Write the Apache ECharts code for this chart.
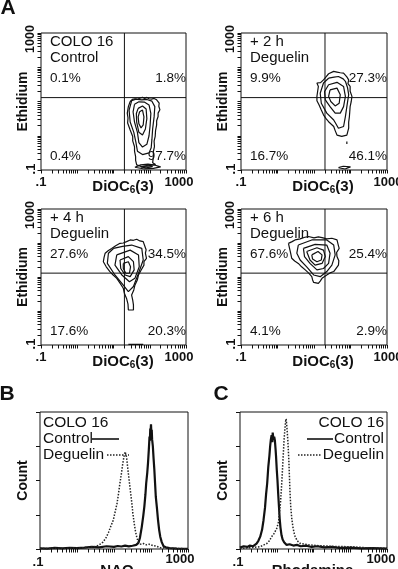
<!DOCTYPE html>
<html>
<head>
<meta charset="utf-8">
<script src="https://cdn.jsdelivr.net/npm/echarts@6/dist/echarts.min.js"></script>
<style>
html, body { margin: 0; padding: 0; background: #fff; }
#chart { width: 398px; height: 569px; }
</style>
</head>
<body>
<div id="chart"></div>
<script>
// tick values on every log axis (decades + 2..9 minors)
const LOG_TICKS = [0.1, 0.2, 0.3, 0.4, 0.5, 0.6, 0.7, 0.8, 0.9,
  1, 2, 3, 4, 5, 6, 7, 8, 9,
  10, 20, 30, 40, 50, 60, 70, 80, 90,
  100, 200, 300, 400, 500, 600, 700, 800, 900, 1000];

// quadrant gates (DiOC6(3), ethidium)
const GATE_X = 20;
const GATE_Y = 13;

// contour lines, points as [log10 DiOC6(3), log10 ethidium]
const ctrlContours = [
  [[1.46,1.00],[1.52,1.06],[1.59,1.08],[1.66,1.06],[1.73,1.10],[1.80,1.12],[1.86,1.09],[1.92,1.12],[1.98,1.08],[2.05,1.07],[2.12,1.09],[2.19,1.05],[2.26,0.95],[2.25,0.86],[2.28,0.76],[2.23,0.66],[2.23,0.56],[2.19,0.44],[2.19,0.32],[2.16,0.15],[2.15,-0.02],[2.12,-0.16],[2.13,-0.32],[2.10,-0.46],[2.10,-0.61],[2.08,-0.79],[2.16,-0.84],[1.96,-0.88],[1.78,-0.90],[1.64,-0.85],[1.61,-0.72],[1.61,-0.61],[1.58,-0.45],[1.58,-0.32],[1.53,-0.15],[1.53,-0.02],[1.46,0.17],[1.39,0.37],[1.40,0.52],[1.38,0.66],[1.41,0.85],[1.46,1.00]],
  [[1.50,1.02],[1.62,1.07],[1.78,1.05],[1.92,1.06],[2.06,1.01],[2.14,0.85],[2.12,0.55],[2.08,0.20],[2.06,-0.10],[2.04,-0.35],[1.98,-0.50],[1.80,-0.55],[1.66,-0.45],[1.62,-0.20],[1.56,0.10],[1.46,0.40],[1.43,0.75],[1.50,1.02]],
  [[1.58,0.92],[1.70,0.99],[1.86,0.98],[1.98,0.90],[2.03,0.65],[2.01,0.30],[1.98,0.00],[1.92,-0.25],[1.80,-0.33],[1.70,-0.20],[1.66,0.10],[1.58,0.40],[1.54,0.70],[1.58,0.92]],
  [[1.68,0.80],[1.80,0.87],[1.90,0.78],[1.92,0.50],[1.88,0.20],[1.80,0.02],[1.70,0.10],[1.64,0.40],[1.63,0.65],[1.68,0.80]],
  [[1.72,0.70],[1.80,0.75],[1.84,0.55],[1.82,0.32],[1.76,0.23],[1.70,0.35],[1.68,0.55],[1.72,0.70]],
  [[1.59,-0.92],[1.75,-0.85],[1.95,-0.83],[2.15,-0.86],[2.30,-0.91],[2.10,-0.95],[1.85,-0.97],[1.59,-0.92]],
  [[1.75,-0.91],[1.92,-0.87],[2.08,-0.90],[1.90,-0.94],[1.75,-0.91]]
];

const deg2hContours = [
  [[1.40,1.81],[1.54,1.88],[1.63,1.86],[1.72,1.84],[1.81,1.83],[1.90,1.72],[1.95,1.63],[1.93,1.52],[1.99,1.44],[1.99,1.30],[2.04,1.15],[2.02,1.00],[1.99,0.85],[1.98,0.70],[1.97,0.56],[1.95,0.40],[1.95,0.22],[1.90,0.02],[1.76,-0.02],[1.63,0.02],[1.58,0.15],[1.54,0.27],[1.40,0.41],[1.33,0.50],[1.26,0.61],[1.20,0.75],[1.14,0.90],[1.08,1.02],[1.08,1.15],[1.10,1.30],[1.12,1.44],[1.08,1.54],[1.18,1.55],[1.26,1.63],[1.33,1.72],[1.40,1.81]],
  [[1.40,1.68],[1.55,1.71],[1.67,1.73],[1.80,1.66],[1.86,1.59],[1.92,1.40],[1.95,1.20],[1.90,0.85],[1.86,0.56],[1.81,0.27],[1.67,0.22],[1.60,0.35],[1.54,0.46],[1.35,0.66],[1.20,0.95],[1.17,1.24],[1.26,1.54],[1.40,1.68]],
  [[1.40,1.49],[1.63,1.56],[1.81,1.44],[1.86,1.15],[1.81,0.85],[1.72,0.66],[1.58,0.66],[1.44,0.85],[1.31,1.05],[1.29,1.29],[1.40,1.49]],
  [[1.44,1.34],[1.63,1.39],[1.72,1.20],[1.69,0.95],[1.58,0.87],[1.46,1.00],[1.40,1.15],[1.44,1.34]],
  [[1.90,-0.17],[1.90,-0.24]],
  [[1.67,-0.93],[1.80,-0.89],[2.00,-0.91],[1.85,-0.97],[1.67,-0.93]]
];

const deg4hContours = [
  [[1.36,2.04],[1.46,2.09],[1.55,2.08],[1.64,2.11],[1.73,2.06],[1.82,2.04],[1.86,1.92],[1.90,1.80],[1.88,1.70],[1.91,1.55],[1.84,1.45],[1.84,1.35],[1.76,1.20],[1.69,1.06],[1.66,0.92],[1.59,0.76],[1.56,0.62],[1.50,0.47],[1.53,0.32],[1.55,0.18],[1.55,0.03],[1.41,0.03],[1.40,0.20],[1.36,0.37],[1.30,0.52],[1.27,0.67],[1.18,0.82],[1.09,0.96],[0.99,1.06],[0.90,1.16],[0.80,1.30],[0.72,1.45],[0.74,1.58],[0.77,1.70],[0.86,1.78],[0.95,1.84],[1.06,1.92],[1.18,1.99],[1.27,2.00],[1.36,2.04]],
  [[1.00,1.84],[1.25,1.90],[1.50,1.94],[1.78,1.84],[1.82,1.50],[1.69,1.11],[1.55,0.72],[1.41,0.57],[1.27,0.76],[1.04,1.06],[0.83,1.40],[0.86,1.70],[1.00,1.84]],
  [[1.09,1.65],[1.46,1.79],[1.69,1.65],[1.71,1.30],[1.59,0.96],[1.44,0.86],[1.23,1.06],[1.04,1.35],[1.09,1.65]],
  [[1.18,1.50],[1.41,1.60],[1.55,1.45],[1.57,1.21],[1.46,1.01],[1.32,1.06],[1.20,1.25],[1.18,1.50]],
  [[1.27,1.40],[1.41,1.45],[1.47,1.30],[1.44,1.11],[1.34,1.11],[1.27,1.25],[1.27,1.40]],
  [[1.41,-0.98],[1.82,-0.98]]
];

const deg6hContours = [
  [[0.30,1.99],[0.40,2.04],[0.48,2.09],[0.62,2.12],[0.75,2.17],[0.85,2.19],[1.00,2.15],[1.12,2.18],[1.22,2.16],[1.35,2.12],[1.49,2.14],[1.63,2.09],[1.66,1.96],[1.69,1.84],[1.62,1.72],[1.63,1.60],[1.68,1.48],[1.67,1.35],[1.54,1.16],[1.44,1.12],[1.35,1.06],[1.22,0.96],[1.17,0.88],[1.12,0.81],[0.99,0.84],[0.96,0.92],[0.94,1.01],[0.85,1.12],[0.76,1.21],[0.66,1.30],[0.57,1.40],[0.47,1.47],[0.39,1.55],[0.36,1.70],[0.33,1.84],[0.30,1.99]],
  [[0.57,1.94],[0.94,2.09],[1.35,2.09],[1.54,1.94],[1.58,1.65],[1.49,1.35],[1.35,1.16],[1.17,1.01],[0.99,1.06],[0.80,1.30],[0.62,1.50],[0.53,1.70],[0.57,1.94]],
  [[0.71,1.84],[1.03,1.96],[1.35,1.94],[1.44,1.70],[1.40,1.40],[1.26,1.25],[1.08,1.21],[0.89,1.40],[0.74,1.60],[0.71,1.84]],
  [[0.80,1.75],[1.08,1.86],[1.26,1.79],[1.31,1.60],[1.22,1.40],[1.03,1.35],[0.89,1.50],[0.80,1.75]],
  [[0.94,1.65],[1.11,1.75],[1.22,1.65],[1.20,1.50],[1.08,1.45],[0.96,1.53],[0.94,1.65]]
];

const panelTitles = [['COLO 16', 'Control'], ['+ 2 h', 'Deguelin'], ['+ 4 h', 'Deguelin'], ['+ 6 h', 'Deguelin']];
// upper-left, upper-right, lower-left, lower-right
const quadrantPct = [
  ['0.1%', '1.8%', '0.4%', '97.7%'],
  ['9.9%', '27.3%', '16.7%', '46.1%'],
  ['27.6%', '34.5%', '17.6%', '20.3%'],
  ['67.6%', '25.4%', '4.1%', '2.9%']
];

// histograms, [log10 fluorescence, count (% of axis)]
const naoControl = [[-1.0,0.5],[-0.8,0.3],[-0.6,0.8],[-0.4,0.4],[-0.2,0.9],[0.0,0.6],[0.2,1.0],[0.4,1.5],[0.6,1.2],[0.8,2.0],[1.0,1.6],[1.1,2.2],[1.2,1.8],[1.3,2.5],[1.4,1.9],[1.5,2.4],[1.6,3.0],[1.66,4.5],[1.70,8],[1.75,16],[1.79,24],[1.82,31],[1.85,40],[1.87,48],[1.90,56],[1.92,63],[1.94,72],[1.95,77],[1.96,82],[1.97,79],[1.98,88],[1.99,86],[2.00,91],[2.01,85],[2.02,87],[2.03,80],[2.05,75],[2.07,66],[2.09,58],[2.11,48],[2.13,38],[2.16,30],[2.19,21],[2.22,14],[2.25,9],[2.29,5],[2.34,2],[2.40,1.2],[2.5,0.6],[2.7,0.3],[3.0,0.2]];
const naoDeguelin = [[-1.0,0.3],[-0.6,0.5],[-0.2,0.6],[0.1,0.8],[0.3,1.2],[0.5,1.8],[0.6,3],[0.7,5],[0.78,8],[0.85,12],[0.92,17],[0.98,21],[1.03,27],[1.08,33],[1.12,40],[1.16,48],[1.20,55],[1.23,61],[1.26,66],[1.28,69],[1.30,71],[1.32,70],[1.34,67],[1.36,62],[1.38,57],[1.41,50],[1.44,43],[1.48,34],[1.51,26],[1.55,18],[1.58,13],[1.62,8],[1.66,5],[1.72,3.5],[1.80,4],[1.88,3],[1.95,3.5],[2.05,2.5],[2.15,2],[2.25,1],[2.5,0.5],[3.0,0.2]];
const rhoControl = [[-1.0,1],[-0.9,2],[-0.8,1.5],[-0.73,2.5],[-0.65,2],[-0.55,4],[-0.5,6],[-0.45,9],[-0.40,14],[-0.36,21],[-0.32,30],[-0.29,40],[-0.26,48],[-0.23,60],[-0.20,68],[-0.18,75],[-0.16,80],[-0.14,83],[-0.12,78],[-0.11,85],[-0.09,80],[-0.07,82],[-0.05,79],[-0.03,72],[-0.02,68],[0.0,58],[0.02,50],[0.04,40],[0.06,31],[0.08,22],[0.10,16],[0.13,10],[0.16,7],[0.2,5],[0.27,3],[0.35,3.5],[0.45,2.5],[0.55,3],[0.65,2],[0.8,2.5],[0.95,1.5],[1.1,2],[1.3,1.2],[1.5,1.6],[1.7,0.8],[2.0,1.0],[2.3,0.5],[2.6,0.6],[3.0,0.3]];
const rhoDeguelin = [[-1.0,0.5],[-0.7,1],[-0.45,1.7],[-0.35,3],[-0.27,4],[-0.2,6],[-0.14,9],[-0.08,11],[-0.04,13],[0.0,15],[0.02,16],[0.05,20],[0.07,26],[0.10,33],[0.12,41],[0.14,50],[0.16,60],[0.18,70],[0.20,80],[0.22,87],[0.24,93],[0.255,95],[0.27,91],[0.28,90],[0.30,80],[0.31,75],[0.33,64],[0.345,53],[0.36,42],[0.38,31],[0.41,22],[0.44,16],[0.47,12],[0.50,9],[0.56,6],[0.64,4],[0.75,3.5],[0.9,3],[1.1,2.5],[1.36,2.2],[1.6,1.8],[2.0,1.7],[2.4,1],[3.0,0.5]];

const INK = '#111';
const FONT = '"Liberation Sans", Arial, Helvetica, sans-serif';

const boxes = [
  { left: 41, top: 33, width: 145, height: 137 },
  { left: 241, top: 33, width: 146, height: 137 },
  { left: 41, top: 209, width: 145, height: 136 },
  { left: 241, top: 209, width: 146, height: 136 },
  { left: 40, top: 412, width: 148, height: 137 },
  { left: 240, top: 412, width: 147, height: 137 }
];

const chart = echarts.init(document.getElementById('chart'));

const logAxis = (i) => ({
  type: 'log', logBase: 10, min: 0.1, max: 1000, gridIndex: i,
  axisLine: { show: false },
  axisTick: { show: true, inside: false, length: 3.5, customValues: LOG_TICKS, lineStyle: { color: INK, width: 1 } },
  axisLabel: { show: false },
  splitLine: { show: false }
});

const countAxis = (i) => ({
  type: 'value', min: 0, max: 100, interval: 25, gridIndex: i,
  axisLine: { show: false },
  axisTick: { show: true, inside: false, length: 4, lineStyle: { color: INK, width: 1 } },
  axisLabel: { show: false },
  splitLine: { show: false }
});

const grids = boxes.map(b => Object.assign({
  show: true, borderColor: INK, borderWidth: 1, backgroundColor: 'transparent',
  containLabel: false, outerBoundsMode: 'none'
}, b));

const xAxes = boxes.map((b, i) => logAxis(i));
const yAxes = boxes.map((b, i) => i < 4 ? logAxis(i) : countAxis(i));

const toLogXY = pts => pts.map(p => [Math.pow(10, p[0]), Math.pow(10, p[1])]);
const toHist = pts => pts.map(p => [Math.pow(10, p[0]), p[1]]);

const series = [];
const lineSeries = (i, data, style) => ({
  type: 'line', xAxisIndex: i, yAxisIndex: i, data,
  symbol: 'none', showSymbol: false, silent: true, smooth: false,
  lineStyle: Object.assign({ color: INK, width: 1 }, style)
});

[ctrlContours, deg2hContours, deg4hContours, deg6hContours].forEach((set, i) => {
  set.forEach(c => series.push(lineSeries(i, toLogXY(c), { width: 1.2 })));
  series.push(lineSeries(i, [[GATE_X, 0.1], [GATE_X, 1000]], { width: 1 }));
  series.push(lineSeries(i, [[0.1, GATE_Y], [1000, GATE_Y]], { width: 1 }));
});

const DOTS = [1.5, 1.5];
series.push(lineSeries(4, toHist(naoControl), { width: 2.2 }));
series.push(lineSeries(4, toHist(naoDeguelin), { width: 1.5, type: DOTS, color: '#222' }));
series.push(lineSeries(5, toHist(rhoControl), { width: 2.2 }));
series.push(lineSeries(5, toHist(rhoDeguelin), { width: 1.5, type: DOTS, color: '#222' }));

// text helpers
const txt = (x, y, str, size, opts = {}) => ({
  type: 'text', x, y, rotation: opts.rot || 0, silent: true, z: 10,
  style: {
    text: str, fill: INK,
    font: (opts.bold ? 'bold ' : '') + size + 'px ' + FONT,
    align: opts.align || 'left', verticalAlign: 'middle',
    textAlign: opts.align || 'left', textVerticalAlign: 'middle'
  }
});
const ROT = Math.PI / 2;
const graphics = [];

boxes.slice(0, 4).forEach((b, i) => {
  const L = b.left, T = b.top, R = b.left + b.width, B = b.top + b.height;
  const col = i % 2;
  graphics.push(txt(L + 9, T + 9, panelTitles[i][0], 15));
  graphics.push(txt(L + 9, T + 25, panelTitles[i][1], 15));
  graphics.push(txt(L + 9, T + 45, quadrantPct[i][0], 13.5));
  graphics.push(txt(R, T + 45, quadrantPct[i][1], 13.5, { align: 'right' }));
  graphics.push(txt(L + 9, B - 14, quadrantPct[i][2], 13.5));
  graphics.push(txt(R, B - 14, quadrantPct[i][3], 13.5, { align: 'right' }));
  graphics.push(txt(L, B + 12, '.1', 13, { bold: true, align: 'center' }));
  graphics.push(txt(col ? R + 1 : R - 7, B + 12, '1000', 13, { bold: true, align: 'center' }));
  graphics.push(txt(L - 10, B - 1, '.1', 13, { bold: true, align: 'center', rot: ROT }));
  graphics.push(txt(L - 10, T + 6, '1000', 12.5, { bold: true, align: 'center', rot: ROT }));
  graphics.push(txt(L - 18, (T + B) / 2, 'Ethidium', 14, { bold: true, align: 'center', rot: ROT }));
  graphics.push({
    type: 'text', x: L + 82, y: B + 17, silent: true, z: 10,
    style: {
      text: '{a|DiOC}{s|6}{a|(3)}', fill: INK,
      align: 'center', verticalAlign: 'middle', textAlign: 'center', textVerticalAlign: 'middle',
      rich: {
        a: { font: 'bold 15px ' + FONT, fill: INK, lineHeight: 17 },
        s: { font: 'bold 10px ' + FONT, fill: INK, lineHeight: 9, verticalAlign: 'bottom' }
      }
    }
  });
});

// histogram panels
[4, 5].forEach(i => {
  const b = boxes[i];
  const L = b.left, T = b.top, R = b.left + b.width, B = b.top + b.height;
  graphics.push(txt(L - 2, B + 13, '.1', 13, { bold: true, align: 'center' }));
  graphics.push(txt(i === 4 ? R - 8 : R - 6, B + 10, '1000', 13, { bold: true, align: 'center' }));
  graphics.push(txt(L - 17, (T + B) / 2, 'Count', 14, { bold: true, align: 'center', rot: ROT }));
  graphics.push(txt((L + R) / 2 + (i === 4 ? 3 : -1), B + 22, i === 4 ? 'NAO' : 'Rhodamine', 15, { bold: true, align: 'center' }));
});

// B legend (text then key)
graphics.push(txt(43, 423, 'COLO 16', 15.5));
graphics.push(txt(43, 439, 'Control', 15.5));
graphics.push(txt(43, 455, 'Deguelin', 15.5));
graphics.push({ type: 'line', silent: true, shape: { x1: 92, y1: 439, x2: 119, y2: 439 }, style: { stroke: INK, lineWidth: 1.6 } });
graphics.push({ type: 'line', silent: true, shape: { x1: 107, y1: 455, x2: 129, y2: 455 }, style: { stroke: '#222', lineWidth: 1.5, lineDash: DOTS } });
// C legend (key then text)
graphics.push(txt(384, 423, 'COLO 16', 15.5, { align: 'right' }));
graphics.push(txt(384, 439, 'Control', 15.5, { align: 'right' }));
graphics.push(txt(384, 455, 'Deguelin', 15.5, { align: 'right' }));
graphics.push({ type: 'line', silent: true, shape: { x1: 307, y1: 439, x2: 333, y2: 439 }, style: { stroke: INK, lineWidth: 1.6 } });
graphics.push({ type: 'line', silent: true, shape: { x1: 298, y1: 455, x2: 322, y2: 455 }, style: { stroke: '#222', lineWidth: 1.5, lineDash: DOTS } });

// panel letters
graphics.push(txt(8, 8, 'A', 21, { bold: true, align: 'center' }));
graphics.push(txt(7, 394, 'B', 21, { bold: true, align: 'center' }));
graphics.push(txt(221, 394, 'C', 21, { bold: true, align: 'center' }));

chart.setOption({
  animation: false,
  backgroundColor: '#fff',
  grid: grids,
  xAxis: xAxes,
  yAxis: yAxes,
  series,
  graphic: { elements: graphics }
});
</script>
</body>
</html>
